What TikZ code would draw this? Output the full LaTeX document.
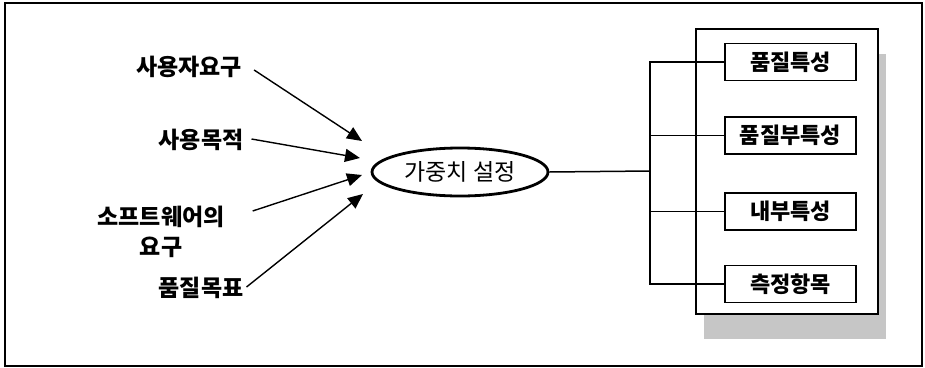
\documentclass[tikz,border=0pt]{standalone}
\usepackage{fontspec}
\newfontfamily\kr{Noto Sans CJK KR}
\usetikzlibrary{arrows.meta,shapes.geometric,shadows}
\tikzset{
  inlabel/.style={font=\kr\bfseries\fontsize{23}{30}\selectfont, inner sep=0pt},
  itembox/.style={draw, line width=1.5pt, fill=white, inner sep=0pt, minimum width=131, minimum height=37, font=\kr\bfseries\fontsize{22}{25}\selectfont},
  feed/.style={-{Triangle[length=15pt,width=13pt]}, line width=1.4pt},
}
\begin{document}
\begin{tikzpicture}[x=1pt,y=-1pt]
  \useasboundingbox (0,0) rectangle (925,367);
  % Frame
  \draw[line width=1.4pt] (5,3) rectangle (922,366);
  % Left-hand labels
  \node[inlabel] (need) at (189,67) {사용자요구};
  \node[inlabel] (purpose) at (201,140) {사용목적};
  \node[inlabel, align=center] (swneed) at (161,232) {소프트웨어의\\요구};
  \node[inlabel] (goal) at (201,288) {품질목표};
  % Weighting
  \node[ellipse, draw, line width=2.8pt, minimum width=176, minimum height=48, font=\kr\fontsize{23}{25}\selectfont] (weight) at (460,172) {가중치 설정};
  % Arrows
  \coordinate (in1) at (362,141);
  \coordinate (in2) at (360,158);
  \coordinate (in3) at (362,175);
  \coordinate (in4) at (363,194);
  \draw[feed] ([shift={(12,3)}]need.east) -- (in1);
  \draw[feed] ([shift={(8,-1)}]purpose.east) -- (in2);
  \draw[feed] ([shift={(28,5)}]swneed.north east) -- (in3);
  \draw[feed] ([shift={(3,-1)}]goal.east) -- (in4);
  % Right-hand group
  \node[draw, line width=1.5pt, fill=white, inner sep=0pt, minimum width=182, minimum height=285, anchor=north west,
        drop shadow={shadow xshift=8pt, shadow yshift=-25pt, fill=gray!45, opacity=1}] (group) at (695,28) {};
  \node[itembox] (q1) at (790.5,62) {품질특성};
  \node[itembox] (q2) at (790.5,135.5) {품질부특성};
  \node[itembox] (q3) at (790.5,211.5) {내부특성};
  \node[itembox] (q4) at (790.5,284) {측정항목};
  % Branches
  \coordinate (bus) at (650,171);
  \draw[line width=1.5pt] (weight.east) -- (bus);
  \draw[line width=1.5pt] (q1.west) -| (bus);
  \draw[line width=1.5pt] (q4.west) -| (bus);
  \draw[line width=1.5pt] (q2.west) -- (q2.west -| bus);
  \draw[line width=1.5pt] (q3.west) -- (q3.west -| bus);
\end{tikzpicture}
\end{document}
